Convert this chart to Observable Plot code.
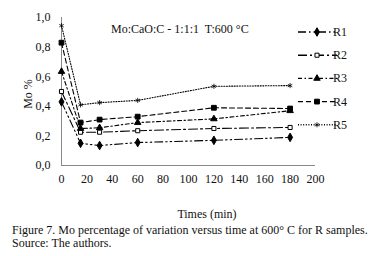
<!DOCTYPE html>
<html><head><meta charset="utf-8">
<script src="https://cdn.jsdelivr.net/npm/d3@7"></script>
<script src="https://cdn.jsdelivr.net/npm/@observablehq/plot@0.6"></script>
<style>body{margin:0;background:#fff;}</style></head>
<body><div id="wrap"></div>
<script>
const times = [0, 15, 30, 60, 120, 180];
const seriesNames = ["R1", "R2", "R3", "R4", "R5"];
const r1 = [0.43, 0.15, 0.135, 0.155, 0.17, 0.19];
const r2 = [0.50, 0.225, 0.225, 0.235, 0.25, 0.257];
const r3 = [0.635, 0.25, 0.255, 0.29, 0.315, 0.37];
const r4 = [0.83, 0.29, 0.31, 0.33, 0.39, 0.385];
const r5 = [0.945, 0.41, 0.425, 0.44, 0.535, 0.54];
const xTicks = [0, 20, 40, 60, 80, 100, 120, 140, 160, 180, 200];
const yTicks = [0, 0.2, 0.4, 0.6, 0.8, 1.0];
const titleText = "Mo:CaO:C - 1:1:1  T:600 °C";
const yLabel = "Mo %";
const xLabel = "Times (min)";
const captionLines = ["Figure 7. Mo percentage of variation versus time at 600° C for R samples.", "Source: The authors."];

const FONT = "Liberation Serif";
const values = [r1, r2, r3, r4, r5];
const styles = [
  {dash: "8,3,1.5,3,1.5,3", symbol: "diamond", fill: "black", r: 2.6},
  {dash: "9,3,2,3", symbol: "square", fill: "white", r: 2.3},
  {dash: "4,2.5,1.5,2.5", symbol: "triangle", fill: "black", r: 2.4},
  {dash: "5,3", symbol: "square", fill: "black", r: 2.7},
  {dash: "1,1.6", symbol: "asterisk", fill: "none", r: 2.4}
];
const rows = [];
seriesNames.forEach((s, i) => times.forEach((t, j) => rows.push({series: s, t, v: values[i][j]})));

const marks = [
  Plot.ruleX([0], {stroke: "#888", strokeWidth: 1}),
  Plot.ruleY([0], {stroke: "#888", strokeWidth: 1}),
];
seriesNames.forEach((s, i) => {
  const st = styles[i];
  const d = rows.filter(r => r.series === s);
  marks.push(Plot.line(d, {x: "t", y: "v", stroke: "black", strokeWidth: 1.1, strokeDasharray: st.dash}));
  marks.push(Plot.dot(d, {x: "t", y: "v", symbol: () => st.symbol, r: st.r,
    fill: st.fill, stroke: "black", strokeWidth: st.symbol === "asterisk" ? 0.8 : 1}));
});
marks.push(Plot.axisX({ticks: xTicks, tickSize: 0, tickPadding: 9, label: null, fontSize: 12}));
marks.push(Plot.axisY({ticks: yTicks, tickSize: 0, tickPadding: 11, label: null, fontSize: 12,
  tickFormat: d => d3.format(".1f")(d).replace(".", ",")}));

const chart = Plot.plot({
  width: 377, height: 256,
  marginLeft: 61, marginRight: 62, marginTop: 17, marginBottom: 91,
  x: {domain: [0, 200]},
  y: {domain: [0, 1]},
  style: {fontFamily: FONT, fontSize: "12px", color: "#111", background: "white"},
  marks
});
document.getElementById("wrap").appendChild(chart);

const svg = d3.select(chart);
function addText(txt, x, y, opts = {}) {
  const t = svg.append("text").attr("x", x).attr("y", y)
    .attr("font-family", FONT).attr("font-size", opts.size || 12).attr("fill", "#111")
    .attr("text-anchor", opts.anchor || "start")
    .style("white-space", "pre").attr("xml:space", "preserve").text(txt);
  if (opts.rotate) t.attr("transform", `rotate(-90 ${x} ${y})`);
  return t;
}
addText(titleText, 111, 33);
addText(yLabel, 32, 94, {rotate: true, anchor: "middle"});
addText(xLabel, 207, 218, {anchor: "middle"});
addText(captionLines[0], 12, 234);
addText(captionLines[1], 12, 247);

const symMap = {diamond: d3.symbolDiamond, square: d3.symbolSquare, triangle: d3.symbolTriangle, asterisk: d3.symbolAsterisk};
const lg = svg.append("g").attr("transform", "translate(298,32)");
seriesNames.forEach((s, i) => {
  const st = styles[i];
  const g = lg.append("g").attr("transform", `translate(0,${i * 23.2})`);
  g.append("line").attr("x1", 0).attr("x2", 39).attr("y1", 0).attr("y2", 0)
    .attr("stroke", "black").attr("stroke-width", 1.4).attr("stroke-dasharray", st.dash);
  g.append("path").attr("d", d3.symbol(symMap[st.symbol], Math.PI * st.r * st.r)())
    .attr("transform", "translate(19,0)").attr("fill", st.fill).attr("stroke", "black")
    .attr("stroke-width", st.symbol === "asterisk" ? 0.8 : 1);
  g.append("text").attr("x", 42).attr("y", 4).attr("font-family", FONT).attr("font-size", 12)
    .attr("fill", "#111").text(s);
});
</script></body></html>
